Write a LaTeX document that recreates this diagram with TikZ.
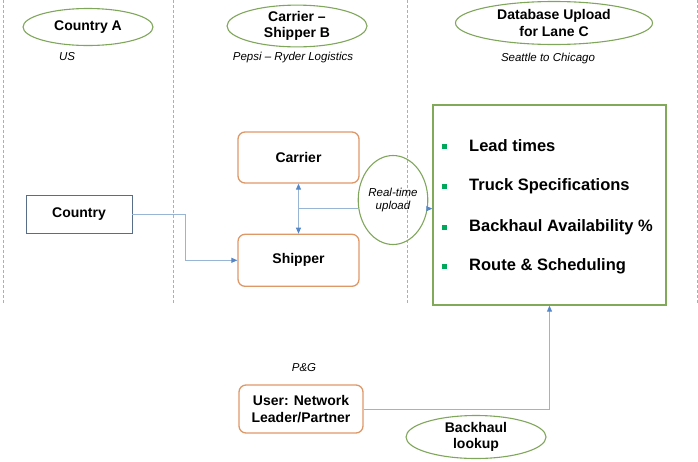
\documentclass[tikz,border=0pt]{standalone}
\usepackage{fontspec}
\setmainfont{Liberation Sans}
\usepackage{xcolor}
\usetikzlibrary{shapes.geometric, arrows.meta, positioning, calc}
\definecolor{laneGray}{RGB}{175, 175, 175}
\definecolor{ovalGreen}{RGB}{128, 166, 92}
\definecolor{dbGreen}{RGB}{130, 168, 90}
\definecolor{bulletGreen}{RGB}{0, 168, 92}
\definecolor{roleOrange}{RGB}{222, 152, 104}
\definecolor{countryBorder}{RGB}{88, 110, 136}
\definecolor{linkBlue}{RGB}{152, 181, 214}
\definecolor{tipBlue}{RGB}{84, 134, 200}

\begin{document}
\begin{tikzpicture}[
    x=1pt, y=-1pt,
    font=\fontsize{14}{16.5}\selectfont\bfseries,
    laneLine/.style={draw=laneGray, line width=0.6pt, dash pattern=on 3pt off 2pt},
    headOval/.style={ellipse, draw=ovalGreen, line width=1.1pt, inner sep=0pt, align=center},
    noteText/.style={font=\fontsize{11.5}{13}\selectfont\itshape},
    roleBox/.style={rectangle, rounded corners=7pt, draw=roleOrange, line width=1.3pt, inner sep=0pt, minimum width=121pt, align=center},
    countryBox/.style={rectangle, draw=countryBorder, line width=0.9pt, inner sep=0pt, minimum width=106pt, minimum height=38pt},
    dbBox/.style={rectangle, draw=dbGreen, line width=1.3pt, inner sep=0pt, minimum width=233pt, minimum height=200pt},
    itemText/.style={anchor=west, inner sep=0pt, font=\fontsize{16.5}{19}\selectfont\bfseries},
    bulletSq/.style={rectangle, fill=bulletGreen, inner sep=0pt, minimum size=5pt},
    linkArrow/.style={-{Triangle[length=6pt, width=5pt, color=tipBlue]}, draw=linkBlue, line width=0.9pt},
    linkBoth/.style={{Triangle[length=6pt, width=5pt, color=tipBlue]}-{Triangle[length=6pt, width=5pt, color=tipBlue]}, draw=linkBlue, line width=0.9pt},
    linkLine/.style={draw=linkBlue, line width=0.9pt}
]
    \useasboundingbox (0,0) rectangle (698,461);

    % Lanes
    \draw[laneLine] (3,0) -- (3,303);
    \draw[laneLine] (173,0) -- (173,303);
    \draw[laneLine] (407,0) -- (407,303);
    \draw[laneLine] (697,0) -- (697,303);

    % Headers
    \node[headOval, minimum width=130pt, minimum height=37pt] (countryA) at (88,27) {Country A};
    \node[headOval, minimum width=140pt, minimum height=36pt] (carrierShipper) at (297,26) {Carrier --\\Shipper B};
    \node[headOval, minimum width=197pt, minimum height=43pt] (dbUpload) at (554,23) {Database Upload\\for Lane C};

    \node[noteText] (us) at (67,57) {US};
    \node[noteText] (pepsi) at (293,58) {Pepsi -- Ryder Logistics};
    \node[noteText] (seattle) at (548,59) {Seattle to Chicago};

    % Nodes
    \node[countryBox] (country) at (79,214) {Country};
    \node[roleBox, minimum height=51pt] (carrier) at (298.5,157.5) {Carrier};
    \node[roleBox, minimum height=52pt, below=50pt of carrier] (shipper) {Shipper};
    \node[headOval, noteText, minimum width=60pt, minimum height=89pt] (realtime) at (393,200) {Real-time\\upload};

    \node[dbBox] (db) at (549.5,205) {};
    \node[itemText] (lead) at (469,146) {Lead times};
    \node[itemText] (truck) at (469,186) {Truck Specifications};
    \node[itemText] (backhaul) at (469,227) {Backhaul Availability \%};
    \node[itemText] (route) at (469,266) {Route \& Scheduling};
    \node[bulletSq, left=21.5pt of lead] (b1) {};
    \node[bulletSq, left=21.5pt of truck] (b2) {};
    \node[bulletSq, left=21.5pt of backhaul] (b3) {};
    \node[bulletSq, left=21.5pt of route] (b4) {};

    \node[noteText] (pg) at (304,368) {P\&G};
    \node[roleBox, minimum width=124pt, minimum height=48pt] (user) at (301,409) {User: Network\\Leader/Partner};
    \node[headOval, minimum width=140pt, minimum height=43pt] (lookup) at (476,437) {Backhaul\\lookup};

    % Arrows
    \coordinate (mid) at ($(carrier.south)!0.5!(shipper.north)$);
    \draw[linkArrow] (country.east) -- ++(53,0) |- (shipper.west);
    \draw[linkBoth] (carrier) -- (shipper);
    \draw[linkLine] (mid) -- (mid -| realtime.west);
    \draw[linkArrow] (mid -| realtime.east) -- (mid -| db.west);
    \draw[linkArrow] (user.east) -| (db.south);

\end{tikzpicture}
\end{document}
